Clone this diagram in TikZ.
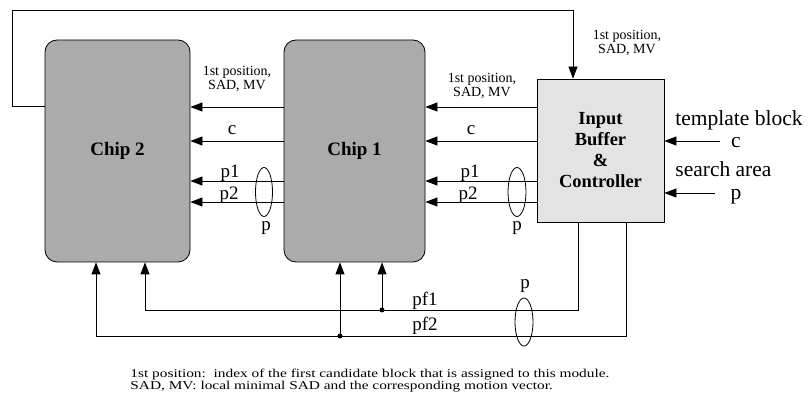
\documentclass[tikz,border=0pt]{standalone}
\usepackage{fontspec}
\setmainfont{Liberation Serif}
\usetikzlibrary{arrows.meta,shapes.geometric}
\begin{document}
\begin{tikzpicture}[x=1pt,y=-1pt,
  line width=0.8pt,
  chipbox/.style={draw, rounded corners=12pt, fill=black!33, minimum width=#1, minimum height=222pt, inner sep=0pt, font=\fontsize{19}{21}\selectfont\bfseries},
  ctrlbox/.style={draw, fill=black!11, minimum width=127pt, minimum height=143pt, inner sep=0pt, align=center, font=\fontsize{18.5}{21}\selectfont\bfseries},
  arr/.style={-{Triangle[length=12pt,width=9pt]}},
  lbl/.style={font=\fontsize{19}{20}\selectfont, inner sep=0pt},
  small/.style={font=\fontsize{14}{11.5}\selectfont, align=center, inner sep=0pt},
  big/.style={font=\fontsize{21.5}{22}\selectfont, inner sep=0pt},
  bundle/.style={draw, ellipse, minimum width=#1, inner sep=0pt},
  dot/.style={circle, fill, inner sep=0pt, minimum size=5pt}
]
\useasboundingbox (0,0) rectangle (812,398);

% blocks
\node[chipbox=145pt] (chip2) at (117.5,151) {Chip 2};
\node[chipbox=141pt] (chip1) at (354.5,151) {Chip 1};
\node[ctrlbox] (ctrl) at (600.5,150.5) {Input\\Buffer\\\&\\Controller};

% chip1 -> chip2
\draw[arr] (chip1.west |- 0,107) -- (chip2.east |- 0,107);
\draw[arr] (chip1.west |- 0,141) -- (chip2.east |- 0,141);
\draw[arr] (chip1.west |- 0,181) -- (chip2.east |- 0,181);
\draw[arr] (chip1.west |- 0,202) -- (chip2.east |- 0,202);
\node[small] (l1) at (237,79) {1st position,\\SAD, MV};
\node[lbl] (c1) at (232,130) {c};
\node[lbl] (p11) at (230,173) {p1};
\node[lbl] (p21) at (229,195) {p2};
\node[bundle=17pt, minimum height=49pt] (e1) at (264,192) {};
\node[lbl] (pe1) at (266,228) {p};

% ctrl -> chip1
\draw[arr] (ctrl.west |- 0,107) -- (chip1.east |- 0,107);
\draw[arr] (ctrl.west |- 0,141) -- (chip1.east |- 0,141);
\draw[arr] (ctrl.west |- 0,181) -- (chip1.east |- 0,181);
\draw[arr] (ctrl.west |- 0,202) -- (chip1.east |- 0,202);
\node[small] (l2) at (482,86) {1st position,\\SAD, MV};
\node[lbl] (c2) at (471,130) {c};
\node[lbl] (p12) at (470,173) {p1};
\node[lbl] (p22) at (468,195) {p2};
\node[bundle=18pt, minimum height=49pt] (e2) at (517,192) {};
\node[lbl] (pe2) at (517,228) {p};

% feedback loop
\coordinate (fa) at (12,106);
\coordinate (fb) at (12,10);
\coordinate (fc) at (573,10);
\draw[arr] (chip2.west |- fa) -- (fa) -- (fb) -- (fc) -- (ctrl.north -| fc);
\node[small] (l3) at (627,43) {1st position,\\SAD, MV};

% external inputs
\coordinate (tc) at (720,141);
\coordinate (sp) at (715,193);
\draw[arr] (tc) -- (ctrl.east |- tc);
\draw[arr] (sp) -- (ctrl.east |- sp);
\node[big, anchor=base west] (tb) at (675,126) {template block};
\node[big] (tcl) at (736,143) {c};
\node[big, anchor=base west] (sa) at (675,177) {search area};
\node[big] (spl) at (736,197) {p};

% bottom buses
\coordinate (b1) at (578,310);
\coordinate (b2) at (626,336);
\coordinate (j1) at (382,310);
\coordinate (j2) at (340,336);
\draw[arr] (ctrl.south -| b1) |- (145,310) -- (chip2.south -| 145,0);
\draw[arr] (ctrl.south -| b2) |- (96,336) -- (chip2.south -| 96,0);
\node[dot] at (j1) {};
\node[dot] at (j2) {};
\draw[arr] (j1) -- (chip1.south -| j1);
\draw[arr] (j2) -- (chip1.south -| j2);
\node[lbl] (pf1) at (425,301) {pf1};
\node[lbl] (pf2) at (425,326) {pf2};
\node[bundle=18pt, minimum height=48pt] (e3) at (524,322) {};
\node[lbl] (pe3) at (525,286) {p};

% caption
\node[font=\fontsize{12}{11}\selectfont, anchor=north west, inner sep=0pt] (cap) at (130,369)
  {\scalebox{1.28}[1]{\begin{tabular}{@{}l@{}}1st position:\ \ index of the first candidate block that is assigned to this module.\\
   SAD, MV: local minimal SAD and the corresponding motion vector.\end{tabular}}};
\end{tikzpicture}
\end{document}
